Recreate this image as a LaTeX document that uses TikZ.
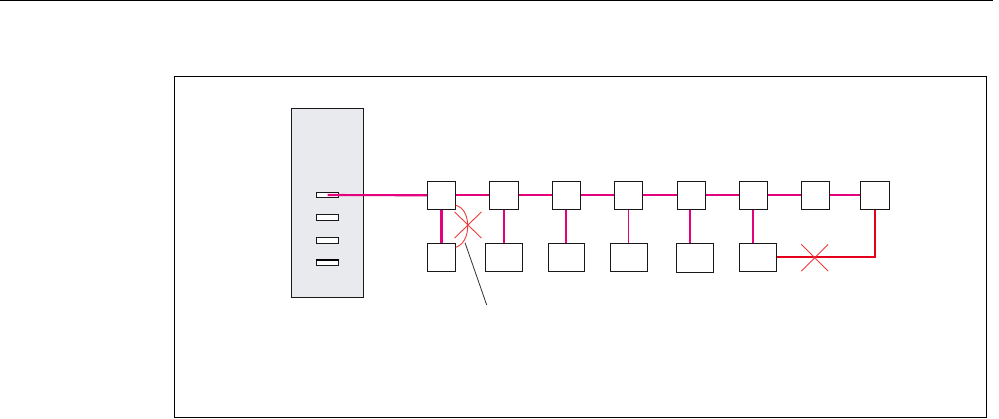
\documentclass[tikz,border=0pt]{standalone}
\usetikzlibrary{shapes.misc,calc}
\definecolor{mag}{HTML}{E5007D}
\definecolor{redline}{HTML}{E2001A}
\definecolor{redx}{HTML}{EE3A3A}
\definecolor{rackfill}{HTML}{E9EAEE}
\definecolor{leader}{HTML}{333333}
\begin{document}
\begin{tikzpicture}[x=1pt,y=-1pt,
  box/.style={draw=black!90, line width=1pt, fill=white, inner sep=0pt, minimum width=#1, minimum height=28pt},
  box/.default=28pt,
  slot/.style={draw=black!90, line width=0.9pt, fill=white, inner sep=0pt, minimum width=22pt, minimum height=5.5pt},
  link/.style={draw=mag, line width=2.1pt},
  thinlink/.style={draw=mag, line width=1.1pt},
  redlink/.style={draw=redline, line width=2pt},
  xmark/.style={cross out, draw=redx, line width=0.9pt, inner sep=0pt, minimum width=26pt, minimum height=26pt}]
\useasboundingbox (0,0) rectangle (999,419);
% top rule and frame
\draw[line width=1pt] (0,0.6) -- (993,0.6);
\draw[line width=1pt] (174.5,417.3) -- (174.5,76.5) -- (986,76.5) -- (986,417.3);
\draw[line width=1.6pt] (174,417.6) -- (986.5,417.6);
% rack
\node[draw=black!90, line width=1pt, fill=rackfill, inner sep=0pt, minimum width=72pt, minimum height=189pt] (rack) at (327.3,202.8) {};
\node[slot] (s1) at (327.5,195) {};
\node[slot] (s2) at (327.5,217.3) {};
\node[slot] (s3) at (327.5,240.3) {};
\node[slot] (s4) at (327.5,262.3) {};
\draw[line width=1.8pt] ($(s4.north west)+(0,0.9)$) -- ($(s4.north east)+(0,0.9)$);
% top row
\node[box] (t1) at (441.5,195.3) {};
\node[box=29pt] (t2) at (504,195.3) {};
\node[box] (t3) at (566.3,195.3) {};
\node[box] (t4) at (628.3,195.3) {};
\node[box] (t5) at (691.3,195.3) {};
\node[box] (t6) at (753.3,195.3) {};
\node[box] (t7) at (815.3,195.3) {};
\node[box=29pt] (t8) at (874.8,195.3) {};
% bottom row
\node[box] (b1) at (441.5,257.5) {};
\node[box=37pt] (b2) at (504,257.5) {};
\node[box=36pt] (b3) at (566.3,257.3) {};
\node[box=37pt] (b4) at (628.8,257.3) {};
\node[box=37pt, minimum height=29pt] (b5) at (694.8,257.8) {};
\node[box=37pt] (b6) at (757.8,257.3) {};
% links
\draw[link] (s1.center) -- (t1.west);
\draw[link] (t1.east) -- (t2.west);
\draw[link] (t2.east) -- (t3.west);
\draw[link] (t3.east) -- (t4.west);
\draw[link] (t4.east) -- (t5.west);
\draw[link] (t5.east) -- (t6.west);
\draw[link] (t6.east) -- (t7.west);
\draw[link] (t7.east) -- (t8.west);
\draw[link] (t1.south) -- (b1.north);
\draw[link] (t2.south) -- (b2.north);
\draw[link] (t3.south) -- (b3.north);
\draw[thinlink] (t4.south) -- (t4.south |- b4.north);
\draw[link] ($(t5.south)+(-1.3,0)$) -- ($(t5.south |- b5.north)+(-1.3,0)$);
\draw[link] ($(t6.south)+(-0.6,0)$) -- ($(t6.south |- b6.north)+(-0.6,0)$);
\draw[redlink] (b6.east) -- (b6.east -| t8.south) -- (t8.south);
% broken links
\node[xmark] (x2) at (814.7,257.7) {};
\node[xmark, minimum height=25.4pt] (x1) at (468,225) {};
\draw[draw=redx, line width=0.9pt] (455.7,205.3) .. controls (463,207) and (467.7,215) .. (467.7,226) .. controls (467.7,237) and (463,245) .. (455.7,247.3);
\coordinate (lead1) at (465,242.7);
\coordinate (lead2) at (486.7,305);
\draw[leader, line width=0.8pt] (lead1) -- (lead2);
\end{tikzpicture}
\end{document}
